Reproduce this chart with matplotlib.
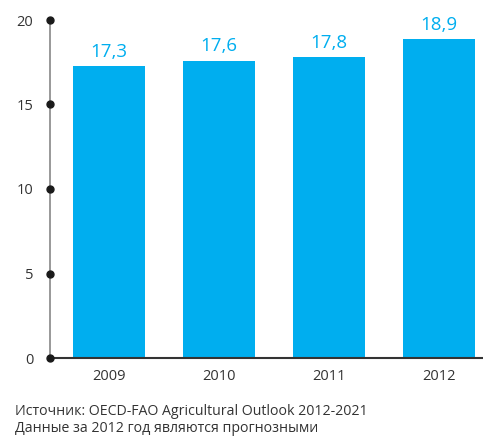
import matplotlib.pyplot as plt

# data
years = ['2009', '2010', '2011', '2012']
values = [17.3, 17.6, 17.8, 18.9]
value_labels = ['17,3', '17,6', '17,8', '18,9']
yticks = [0, 5, 10, 15, 20]

blue = '#00AEEF'
plt.rcParams['font.family'] = ['Open Sans', 'DejaVu Sans']

fig = plt.figure(figsize=(4.83, 4.36), dpi=100)
ax = fig.add_axes([50 / 483, 78 / 436, 433 / 483, 338 / 436])

x = range(len(years))
ax.bar(x, values, width=0.655, color=blue, zorder=2)
for xi, v, lab in zip(x, values, value_labels):
    ax.text(xi, v + 0.3, lab, ha='center', va='bottom', color=blue, fontsize=13.5)

ax.set_xlim(-0.536, 3.4)
ax.set_ylim(0, 20)
ax.set_xticks(list(x))
ax.set_xticklabels(years, fontsize=10.5, color='#333333')
ax.set_yticks(yticks)
ax.set_yticklabels([str(t) for t in yticks], fontsize=10.5, color='#333333')
ax.tick_params(axis='both', length=0)
ax.tick_params(axis='y', pad=12)
ax.tick_params(axis='x', pad=8)

for side in ['top', 'right']:
    ax.spines[side].set_visible(False)
ax.spines['left'].set_color('#888888')
ax.spines['left'].set_linewidth(1.2)
ax.spines['bottom'].set_color('#333333')
ax.spines['bottom'].set_linewidth(1.5)

# dots on the y axis ticks
ax.plot([-0.536] * len(yticks), yticks, 'o', color='#1a1a1a', markersize=5,
        clip_on=False, zorder=5)

fig.text(15 / 483, 1 - 411 / 436, 'Источник: OECD-FAO Agricultural Outlook 2012-2021',
         fontsize=10.2, color='#333333', va='center')
fig.text(15 / 483, 1 - 428 / 436, 'Данные за 2012 год являются прогнозными',
         fontsize=10.2, color='#333333', va='center')

fig.savefig('out.png', dpi=100)
